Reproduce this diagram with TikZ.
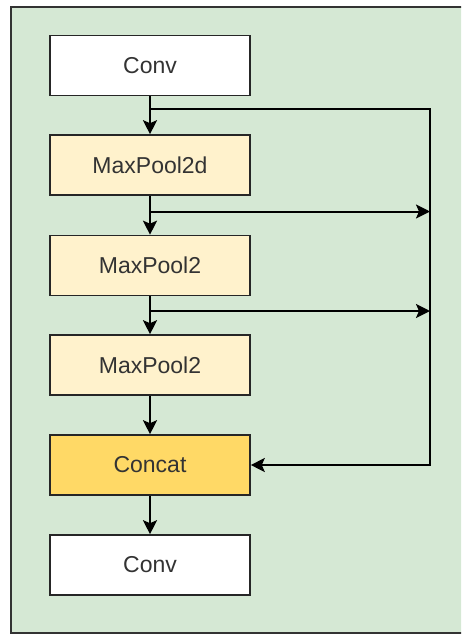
\documentclass[tikz,border=0pt]{standalone}
\usepackage{fontspec}
\setmainfont{Liberation Sans}
\usetikzlibrary{arrows.meta}
\definecolor{bg}{HTML}{D5E8D4}
\definecolor{bord}{HTML}{333333}
\definecolor{pool}{HTML}{FFF2CC}
\definecolor{cat}{HTML}{FFD966}
\definecolor{txt}{HTML}{333333}
\tikzset{
  box/.style={draw=black!85, line width=1.6pt, minimum width=200pt, minimum height=60pt, inner sep=0pt,
    font=\fontsize{23}{27}\selectfont, text=txt},
  arr/.style={draw=black, line width=2pt, -{Stealth[length=14pt,width=14pt,inset=3pt]}},
  ln/.style={draw=black, line width=2pt}
}
\begin{document}
\begin{tikzpicture}[x=1pt,y=-1pt]
\useasboundingbox (0,0) rectangle (461,635);
\begin{scope}
\clip (0,0) rectangle (461,635);
\draw[fill=bg, draw=bord, line width=2pt] (10.5,6.5) rectangle (480,632.5);
\end{scope}
\node[box, fill=white] (conv1) at (150,65.5) {Conv};
\node[box, fill=pool] (mp1) at (150,165) {MaxPool2d};
\node[box, fill=pool] (mp2) at (150,265.5) {MaxPool2};
\node[box, fill=pool] (mp3) at (150,365) {MaxPool2};
\node[box, fill=cat] (concat) at (150,465) {Concat};
\node[box, fill=white] (conv2) at (150,565) {Conv};
\coordinate (t1) at (150,109);
\coordinate (r1) at (430,109);
\coordinate (t2) at (150,211.5);
\coordinate (r2) at (430,211.5);
\coordinate (t3) at (150,311);
\coordinate (r3) at (430,311);
\draw[arr] (conv1) -- (mp1);
\draw[arr] (mp1) -- (mp2);
\draw[arr] (mp2) -- (mp3);
\draw[arr] (mp3) -- (concat);
\draw[arr] (concat) -- (conv2);
\draw[arr] (t1) -- (r1) |- (concat);
\draw[arr] (t2) -- (r2);
\draw[arr] (t3) -- (r3);
\end{tikzpicture}
\end{document}
